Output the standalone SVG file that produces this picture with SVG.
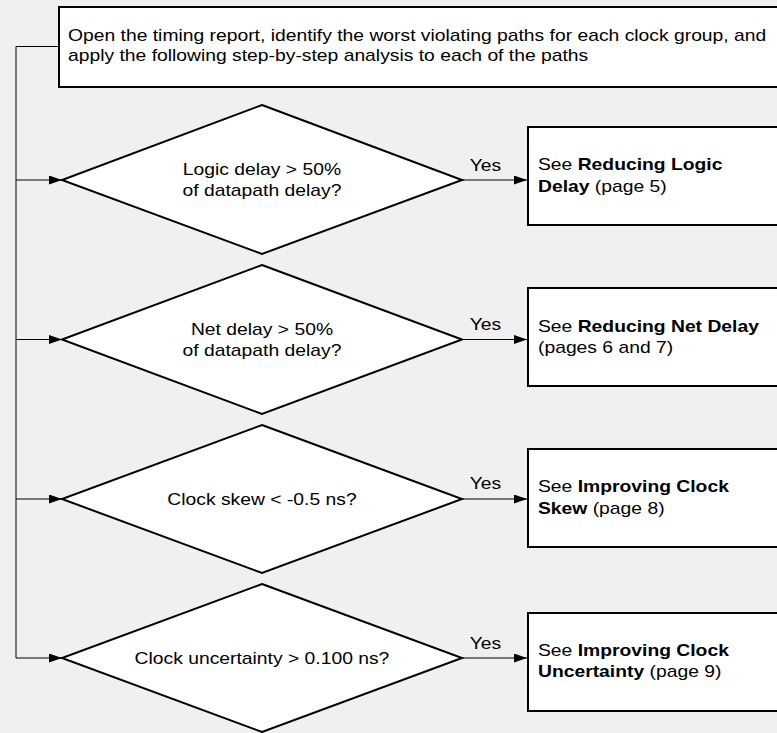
<svg xmlns="http://www.w3.org/2000/svg" width="777" height="733" viewBox="0 0 777 733">
<defs>
<style>
.bg{fill:#f0f0f0}
.box{fill:#fff;stroke:#000;stroke-width:2}
.dia{fill:#fff;stroke:#000;stroke-width:2}
.con{fill:none;stroke:#000;stroke-width:1}
text{font-family:"Liberation Sans",Arial,sans-serif;font-size:16px;fill:#000}
.c{text-anchor:middle}
.b{font-weight:bold}
</style>
<marker id="ah" viewBox="0 0 13 9" refX="13" refY="4.5" markerWidth="13" markerHeight="9" markerUnits="userSpaceOnUse" orient="auto">
<path d="M0,0 L13,4.5 L0,9 Z" fill="#000"/>
</marker>
</defs>
<rect class="bg" x="0" y="0" width="777" height="733"/>
<g id="connectors">
<path class="con" d="M59,46.5 H16 V658"/>
<path class="con" d="M16,180 H62" marker-end="url(#ah)"/>
<path class="con" d="M16,339.5 H62" marker-end="url(#ah)"/>
<path class="con" d="M16,499 H62" marker-end="url(#ah)"/>
<path class="con" d="M16,658 H62" marker-end="url(#ah)"/>
<path class="con" d="M462,180 H527" marker-end="url(#ah)"/>
<path class="con" d="M462,339.5 H527" marker-end="url(#ah)"/>
<path class="con" d="M462,499 H527" marker-end="url(#ah)"/>
<path class="con" d="M462,658 H527" marker-end="url(#ah)"/>
<text class="c" x="485.5" y="171" transform="translate(485.5 0) scale(1.207 1) translate(-485.5 0)">Yes</text>
<text class="c" x="485.5" y="330" transform="translate(485.5 0) scale(1.207 1) translate(-485.5 0)">Yes</text>
<text class="c" x="485.5" y="489" transform="translate(485.5 0) scale(1.207 1) translate(-485.5 0)">Yes</text>
<text class="c" x="485.5" y="649" transform="translate(485.5 0) scale(1.207 1) translate(-485.5 0)">Yes</text>
</g>
<g id="start">
<rect class="box" x="59" y="7" width="730" height="80"/>
<g transform="translate(68 0) scale(1.207 1) translate(-68 0)">
<text x="68" y="41">Open the timing report, identify the worst violating paths for each clock group, and</text>
<text x="68" y="61">apply the following step-by-step analysis to each of the paths</text>
</g>
</g>
<g id="d1">
<polygon class="dia" points="262,105 462,180 262,254 62,180"/>
<g transform="translate(262 0) scale(1.207 1) translate(-262 0)">
<text class="c" x="262" y="175.5">Logic delay &gt; 50%</text>
<text class="c" x="262" y="196.5">of datapath delay?</text>
</g>
</g>
<g id="d2">
<polygon class="dia" points="262,265 462,339.5 262,414 62,339.5"/>
<g transform="translate(262 0) scale(1.207 1) translate(-262 0)">
<text class="c" x="262" y="335">Net delay &gt; 50%</text>
<text class="c" x="262" y="356">of datapath delay?</text>
</g>
</g>
<g id="d3">
<polygon class="dia" points="262,425 462,499 262,573 62,499"/>
<text class="c" x="262" y="505" transform="translate(262 0) scale(1.207 1) translate(-262 0)">Clock skew &lt; -0.5 ns?</text>
</g>
<g id="d4">
<polygon class="dia" points="262,584 462,658 262,732 62,658"/>
<text class="c" x="262" y="664" transform="translate(262 0) scale(1.207 1) translate(-262 0)">Clock uncertainty &gt; 0.100 ns?</text>
</g>
<g id="r1">
<rect class="box" x="528" y="127" width="260" height="98"/>
<g transform="translate(538 0) scale(1.207 1) translate(-538 0)">
<text x="538" y="170.5">See <tspan class="b">Reducing Logic</tspan></text>
<text x="538" y="192">
<tspan class="b">Delay</tspan> (page 5)</text>
</g>
</g>
<g id="r2">
<rect class="box" x="528" y="288" width="260" height="98"/>
<g transform="translate(538 0) scale(1.207 1) translate(-538 0)">
<text x="538" y="332.5">See <tspan class="b">Reducing Net Delay</tspan></text>
<text x="538" y="353.5">(pages 6 and 7)</text>
</g>
</g>
<g id="r3">
<rect class="box" x="528" y="449" width="260" height="98"/>
<g transform="translate(538 0) scale(1.207 1) translate(-538 0)">
<text x="538" y="492.5">See <tspan class="b">Improving Clock</tspan></text>
<text x="538" y="514"><tspan class="b">Skew</tspan> (page 8)</text>
</g>
</g>
<g id="r4">
<rect class="box" x="528" y="613" width="260" height="98"/>
<g transform="translate(538 0) scale(1.207 1) translate(-538 0)">
<text x="538" y="656.5">See <tspan class="b">Improving Clock</tspan></text>
<text x="538" y="677.5"><tspan class="b">Uncertainty</tspan> (page 9)</text>
</g>
</g>
</svg>
